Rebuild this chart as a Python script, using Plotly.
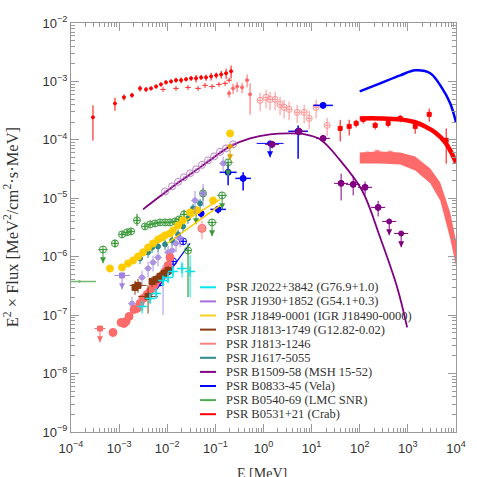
import plotly.graph_objects as go

# ---------------- DATA  (E in MeV ; E^2 x Flux in MeV^2 / cm^2 / s / MeV) ----------------
# PSR B0531+21 (Crab)
crab_xray_E = [2.86e-4, 8.2e-4, 1.26e-3, 1.85e-3, 2.72e-3, 3.62e-3, 4.6e-3, 5.85e-3, 7.4e-3, 9.4e-3, 1.2e-2, 1.52e-2,
               1.94e-2, 2.46e-2, 3.13e-2, 3.97e-2, 5.05e-2, 6.4e-2, 8.15e-2, 0.104, 0.132, 0.167, 0.212]
crab_xray_F = [2.43e-4, 4.2e-4, 5.35e-4, 5.8e-4, 7.6e-4, 7.3e-4, 7.6e-4, 8.2e-4, 8.9e-4, 9.65e-4, 1.0e-3, 1.05e-3,
               1.05e-3, 1.09e-3, 1.13e-3, 1.13e-3, 1.17e-3, 1.17e-3, 1.22e-3, 1.27e-3, 1.32e-3, 1.38e-3, 1.49e-3]
crab_xray_rerr = [0.6, 0.25, 0.12, 0.1, 0.12, 0.1, 0.08, 0.08, 0.08, 0.08, 0.08, 0.1,
                  0.12, 0.08, 0.1, 0.15, 0.1, 0.12, 0.15, 0.12, 0.15, 0.2, 0.25]
crab_xray2_E = [8.18e-3, 1.52e-2, 2.7e-2, 4.37e-2, 6.1e-2, 8.53e-2, 0.119, 0.159, 0.193]
crab_xray2_F = [7.3e-4, 7.6e-4, 7.9e-4, 7.6e-4, 8.57e-4, 8.2e-4, 8.9e-4, 9.27e-4, 1.05e-3]
crab_hard_E = [0.193, 0.233, 0.283, 0.359, 0.456, 0.526]
crab_hard_F = [6.25e-4, 7.6e-4, 8.2e-4, 7.9e-4, 1.05e-3, 6.0e-4]
crab_hard_rerr = [0.15, 0.2, 0.2, 0.2, 0.25, 0.55]
crab_comptel_E = [0.85, 1.13, 1.37, 1.74, 2.21, 2.68, 3.40, 5.0, 6.99, 8.9, 12.4, 21.0]
crab_comptel_F = [4.74e-4, 5.35e-4, 4.93e-4, 4.93e-4, 4.06e-4, 3.6e-4, 3.33e-4, 2.96e-4, 2.96e-4, 2.33e-4, 3.6e-4, 1.77e-4]
crab_fermi_E = [39.2, 60.3, 84.2, 118, 209, 389, 692, 1419, 2773, 6250]
crab_fermi_F = [1.57e-4, 1.70e-4, 1.92e-4, 2.24e-4, 1.77e-4, 1.92e-4, 2.33e-4, 1.70e-4, 2.73e-4, 9.8e-5]
crab_fermi_rerr = [0.4, 0.3, 0.15, 0.15, 0.15, 0.15, 0.15, 0.25, 0.25, 0.6]
crab_model_E = [100, 265, 692, 1419, 2291, 3698, 5970, 7570, 1e4]
crab_model_F = [2.33e-4, 2.33e-4, 2.24e-4, 2.0e-4, 1.70e-4, 1.34e-4, 9.06e-5, 6.6e-5, 4.1e-5]

# PSR B0833-45 (Vela)
vela_model_E = [100, 265, 692, 1419, 2911, 5164, 7570, 1e4]
vela_model_F = [6.76e-4, 9.27e-4, 1.27e-3, 1.55e-3, 1.38e-3, 7.6e-4, 4.22e-4, 2.0e-4]
vela_hi_E = [17.3, 5.24, 0.184, 0.377, 0.114, 0.0505]
vela_hi_F = [3.89e-4, 1.4e-4, 2.78e-5, 2.19e-5, 6.46e-6, 5.5e-6]
vela_hi_rup = [0.1, 0.26, 0.42, 0.27, 0.15, 0.15]
vela_hi_rdn = [0.1, 0.66, 0.4, 0.38, 0.15, 0.15]
vela_hi_rx = [0.6, 0.6, 0.5, 0.45, 0.45, 0.1]
vela_ul_E = [1.37]
vela_ul_F = [8.7e-5]
vela_lo_E = [7.08e-3, 1.04e-2, 1.32e-2, 2.13e-2]
vela_lo_F = [3.63e-7, 5.6e-7, 8.3e-7, 1.83e-6]
vela_pl_E = [5.6e-3, 2.98e-2]
vela_pl_F = [2.55e-7, 1.69e-6]

# PSR B1509-58 (MSH 15-52)
b1509_model_E = [3.14e-3, 7.08e-3, 1.85e-2, 4.81e-2, 9.86e-2, 0.202, 0.526, 1.37, 3.57, 7.33, 15.0, 39.2, 112, 265, 600, 966]
b1509_model_F = [6.46e-6, 1.08e-5, 1.95e-5, 3.38e-5, 5.21e-5, 7.74e-5, 1.06e-4, 1.24e-4, 1.29e-4, 1.24e-4, 1.02e-4,
                 4.45e-5, 1.36e-5, 2.14e-6, 2.98e-7, 6.17e-8]
b1509_circ_E = [9.0e-3, 1.26e-2, 1.68e-2, 2.23e-2, 2.98e-2, 3.97e-2, 5.28e-2, 7.05e-2, 9.4e-2, 0.125, 0.167, 0.233]
b1509_circ_F = [1.31e-5, 1.6e-5, 1.91e-5, 2.28e-5, 2.67e-5, 3.13e-5, 3.73e-5, 4.45e-5, 5.21e-5, 6.23e-5, 7.15e-5, 8.37e-5]
b1509_hi_E = [1.51, 5.5, 17.3, 41, 73, 129, 241]
b1509_hi_F = [8.37e-5, 1.4e-4, 1.06e-4, 1.8e-5, 1.73e-5, 1.54e-5, 6.98e-6]
b1509_hi_rup = [0.15, 0.15, 0.15, 0.47, 0.4, 0.25, 0.3]
b1509_hi_rdn = [0.15, 0.15, 0.15, 0.49, 0.35, 0.25, 0.3]
b1509_ul_E = [409, 726]
b1509_ul_F = [4.02e-6, 2.5e-6]

# PSR B0540-69 (LMC SNR)
b0540_E = [8.2e-4, 1.15e-3, 1.46e-3, 1.77e-3, 2.35e-3, 3.45e-3, 4.39e-3, 5.57e-3, 7.08e-3, 9.0e-3, 1.14e-2,
           1.45e-2, 1.76e-2, 2.23e-2, 2.7e-2, 5.54e-2]
b0540_F = [1.69e-6, 2.41e-6, 2.61e-6, 2.71e-6, 4.19e-6, 3.3e-6, 3.57e-6, 3.72e-6, 3.86e-6, 3.86e-6, 3.86e-6,
           4.02e-6, 4.35e-6, 5.3e-6, 1.28e-6, 1.21e-5]
b0540_rup = [0.15, 0.12, 0.1, 0.1, 0.3, 0.1, 0.08, 0.08, 0.08, 0.08, 0.08, 0.08, 0.1, 0.2, 0.32, 0.25]
b0540_rdn = [0.15, 0.12, 0.1, 0.1, 0.2, 0.1, 0.08, 0.08, 0.08, 0.08, 0.08, 0.08, 0.1, 0.2, 0.84, 0.25]
b0540_ul_E = [4.62e-4, 3.97e-2, 8.53e-2, 0.138, 0.184]
b0540_ul_F = [1.33e-6, 6.2e-6, 3.86e-6, 1.12e-5, 4.12e-5]
b0540_bar_E = [1.5e-4]
b0540_bar_F = [3.77e-7]

# PSR J1849-0001 (IGR J18490-0000)
j1849_E = [6.47e-4, 1.15e-3, 1.53e-3, 1.95e-3, 2.47e-3, 3.14e-3, 3.99e-3, 5.07e-3, 6.44e-3, 7.8e-3, 9.0e-3,
           1.14e-2, 1.32e-2, 1.68e-2, 2.13e-2, 2.98e-2, 4.17e-2, 8.96e-2, 0.202]
j1849_F = [6.3e-7, 6.56e-7, 7.68e-7, 8.65e-7, 1.01e-6, 1.19e-6, 1.44e-6, 1.69e-6, 1.98e-6, 2.14e-6, 2.32e-6,
           2.5e-6, 2.82e-6, 3.44e-6, 4.19e-6, 5.73e-6, 6.2e-6, 9.2e-6, 1.29e-4]
j1849_ul_E = [0.202]
j1849_ul_F = [7.74e-5]
j1849_pl1_E = [7.08e-3, 0.125]
j1849_pl1_F = [2.22e-6, 9.57e-6]
j1849_pl2_E = [1.0e-2, 0.125]
j1849_pl2_F = [1.69e-6, 7.55e-6]

# PSR J1617-5055
j1617_E = [2.72e-3, 3.99e-3, 4.83e-3, 6.44e-3, 9.0e-3, 1.26e-2, 1.68e-2, 2.13e-2, 2.7e-2, 3.43e-2, 4.81e-2]
j1617_F = [9.35e-7, 1.19e-6, 1.44e-6, 1.5e-6, 1.63e-6, 1.9e-6, 2.41e-6, 3.3e-6, 4.53e-6, 6.71e-6, 8.16e-6]

# PSR J1930+1852 (G54.1+0.3)
j1930_E = [1.85e-3, 2.99e-3, 3.99e-3, 5.07e-3, 6.44e-3, 8.18e-3, 1.04e-2, 1.26e-2, 1.52e-2, 1.85e-2, 3.78e-2, 5.54e-2, 0.145]
j1930_F = [1.58e-7, 4.42e-7, 6.3e-7, 8.0e-7, 9.73e-7, 4.78e-7, 1.19e-6, 1.28e-6, 1.69e-6, 2.06e-6, 9.2e-6, 1.21e-5, 3.95e-5]
j1930_rup = [0.3, 0.3, 0.3, 0.3, 0.3, 0.5, 0.3, 0.3, 0.3, 0.3, 0.45, 0.45, 0.3]
j1930_rdn = [0.3, 0.3, 0.3, 0.3, 0.3, 0.79, 0.3, 0.3, 0.3, 0.3, 0.4, 0.4, 0.3]
j1930_ul_E = [1.15e-3]
j1930_ul_F = [4.78e-7]

# PSR J1813-1749 (G12.82-0.02)
j1749_E = [2.14e-3, 2.47e-3, 3.99e-3, 4.83e-3, 5.85e-3, 7.08e-3, 8.57e-3, 1.04e-2]
j1749_F = [2.98e-7, 3.23e-7, 2.09e-7, 3.78e-7, 4.08e-7, 4.6e-7, 5.17e-7, 5.82e-7]
j1749_rup = [0.3, 0.3, 0.55, 0.2, 0.2, 0.2, 0.2, 0.2]
j1749_rdn = [0.25, 0.25, 0.49, 0.2, 0.2, 0.2, 0.2, 0.2]
j1749_rx = [0.15, 0.5, 0.6, 0.1, 0.1, 0.1, 0.1, 0.1]

# PSR J1813-1246
j1246_E = [7.46e-4, 1.1e-3, 1.26e-3, 1.39e-3, 1.61e-3, 2.04e-3, 2.35e-3, 2.72e-3, 3.14e-3, 3.8e-3, 4.39e-3,
           5.07e-3, 5.57e-3, 6.44e-3, 7.8e-3, 9.0e-3, 1.04e-2, 1.14e-2, 5.28e-2]
j1246_F = [5.05e-8, 7.5e-8, 7.2e-8, 7.8e-8, 9.5e-8, 1.25e-7, 1.3e-7, 1.58e-7, 1.93e-7, 2.26e-7, 2.55e-7,
           2.98e-7, 3.49e-7, 4.08e-7, 4.78e-7, 5.6e-7, 7.1e-7, 9.73e-7, 3.05e-6]
j1246_ul_E = [4.0e-4]
j1246_ul_F = [5.9e-8]
j1246_band_E = [100, 265, 692, 1419, 2911, 4699, 7570, 1e4]
j1246_band_hi = [6.1e-5, 6.35e-5, 6.1e-5, 5.2e-5, 3.25e-5, 1.87e-5, 5.7e-6, 1.9e-6]
j1246_band_lo = [3.95e-5, 3.95e-5, 3.8e-5, 3.0e-5, 1.8e-5, 9.2e-6, 2.06e-6, 7.1e-7]
j1246_fermi_E = [146, 230, 429, 762]
j1246_fermi_F = [5.7e-5, 6.1e-5, 5.9e-5, 5.0e-5]

# PSR J2022+3842 (G76.9+1.0)
j2022_E = [2.99e-3, 4.39e-3, 5.85e-3, 8.18e-3, 1.04e-2, 1.32e-2, 2.03e-2, 2.98e-2]
j2022_F = [1.41e-7, 1.93e-7, 2.35e-7, 3.93e-7, 4.42e-7, 5.6e-7, 6.3e-7, 5.6e-7]
j2022_rup = [0.25, 0.2, 0.2, 0.2, 0.2, 0.2, 0.3, 0.9]
j2022_rdn = [0.25, 0.2, 0.2, 0.2, 0.2, 0.2, 0.3, 0.64]

legend_names = ["PSR J2022+3842 (G76.9+1.0)", "PSR J1930+1852 (G54.1+0.3)", "PSR J1849-0001 (IGR J18490-0000)",
                "PSR J1813-1749 (G12.82-0.02)", "PSR J1813-1246", "PSR J1617-5055", "PSR B1509-58 (MSH 15-52)",
                "PSR B0833-45 (Vela)", "PSR B0540-69 (LMC SNR)", "PSR B0531+21 (Crab)"]
legend_colors = ["#00e5ee", "#a070e0", "#ffcc22", "#8b3a0f", "#ff8080", "#2e8b8b", "#8b008b", "#0000ff", "#4caf50", "#ff0000"]

# ---------------- STYLE ----------------
C_CYAN = "#00e5ee"
C_J1930 = "#a080e0"
C_GOLD = "#ffcc00"
C_BROWN = "#8b3a0f"
C_SALMON = "#ff6a6a"
C_TEAL = "#2a8a8a"
C_PURPLE = "#800080"
C_BLUE = "#0000ff"
C_GREEN = "#3a9a3a"
C_RED = "#ff0000"

fig = go.Figure()


def points(E, F, color, symbol="circle", size=5, rup=0.15, rdn=None, rx=0.1, opacity=1.0, lw=1.0, mlw=1):
    n = len(F)
    rup = rup if isinstance(rup, list) else [rup] * n
    rdn = rdn if isinstance(rdn, list) else (rup if rdn is None else [rdn] * n)
    rx = rx if isinstance(rx, list) else [rx] * n
    fig.add_trace(go.Scatter(
        x=E, y=F, mode="markers", showlegend=False, opacity=opacity,
        marker=dict(symbol=symbol, size=size, color=color, line=dict(color=color, width=mlw)),
        error_y=dict(type="data", symmetric=False, array=[f * r for f, r in zip(F, rup)],
                     arrayminus=[f * r for f, r in zip(F, rdn)], color=color, thickness=lw, width=0),
        error_x=dict(type="data", symmetric=False, array=[e * r for e, r in zip(E, rx)],
                     arrayminus=[e * r / (1 + r) for e, r in zip(E, rx)], color=color, thickness=lw, width=0),
    ))


def upper_limits(E, F, color, symbol="circle", size=5, rx=0.2, opacity=1.0):
    drop = 0.42
    fig.add_trace(go.Scatter(
        x=E, y=F, mode="markers", showlegend=False, opacity=opacity,
        marker=dict(symbol=symbol, size=size, color=color, line=dict(color=color, width=1)),
        error_y=dict(type="data", symmetric=False, array=[0] * len(F), arrayminus=[f * drop for f in F],
                     color=color, thickness=1, width=0),
        error_x=dict(type="data", symmetric=False, array=[e * rx for e in E],
                     arrayminus=[e * rx / (1 + rx) for e in E], color=color, thickness=1, width=0),
    ))
    fig.add_trace(go.Scatter(
        x=E, y=[f * (1 - drop) for f in F], mode="markers", showlegend=False, opacity=opacity,
        marker=dict(symbol="arrow-down", size=6, color=color),
    ))


# J1813-1246 Fermi band
fig.add_trace(go.Scatter(x=j1246_band_E + j1246_band_E[::-1], y=j1246_band_hi + j1246_band_lo[::-1],
                         fill="toself", fillcolor=C_SALMON, line=dict(width=0), mode="lines",
                         showlegend=False, hoverinfo="skip"))
points(j1246_fermi_E, j1246_fermi_F, C_SALMON, "square", 4, rup=0.1, rx=0.3, opacity=0.8)

# Crab
points(crab_xray_E, crab_xray_F, C_RED, "circle", 3, rup=crab_xray_rerr, rx=0.08)
points(crab_xray2_E, crab_xray2_F, C_RED, "line-ew", 4, rup=0.1, rx=0.05, opacity=0.8)
points(crab_hard_E, crab_hard_F, "#ff4040", "circle", 3, rup=crab_hard_rerr, rx=0.08, opacity=0.8)
points(crab_comptel_E, crab_comptel_F, "#ff9090", "circle-open", 6, rup=0.35, rx=0.12)
points(crab_fermi_E, crab_fermi_F, C_RED, "square", 4, rup=crab_fermi_rerr, rx=0.1)
fig.add_trace(go.Scatter(x=crab_model_E, y=crab_model_F, mode="lines", line=dict(color=C_RED, width=4.5, shape="spline"),
                         showlegend=False))

# Vela
fig.add_trace(go.Scatter(x=vela_model_E, y=vela_model_F, mode="lines", line=dict(color=C_BLUE, width=2.5, shape="spline"),
                         showlegend=False))
points(vela_hi_E, vela_hi_F, C_BLUE, "circle", 6, rup=vela_hi_rup, rdn=vela_hi_rdn, rx=vela_hi_rx, lw=1.5)
upper_limits(vela_ul_E, vela_ul_F, C_BLUE, "circle", 5, rx=0.9)
points(vela_lo_E, vela_lo_F, C_BLUE, "circle-cross-open", 7, rup=0.12, rx=0.08)
fig.add_trace(go.Scatter(x=vela_pl_E, y=vela_pl_F, mode="lines", line=dict(color=C_BLUE, width=1.2), showlegend=False))

# B0540-69
points(b0540_bar_E, b0540_bar_F, C_GREEN, "circle", 2, rup=0.0, rx=[1.2], opacity=0.7, lw=1.5)
points(b0540_E, b0540_F, C_GREEN, "circle-cross-open", 7, rup=b0540_rup, rdn=b0540_rdn, rx=0.1, lw=1.2)
upper_limits(b0540_ul_E, b0540_ul_F, C_GREEN, "circle-cross-open", 7, rx=0.25)

# B1509-58
fig.add_trace(go.Scatter(x=b1509_model_E, y=b1509_model_F, mode="lines",
                         line=dict(color=C_PURPLE, width=1.8, shape="spline"), showlegend=False))
points(b1509_circ_E, b1509_circ_F, "#b070c0", "circle-open", 7, rup=0.06, rx=0.05, opacity=0.85)
points(b1509_hi_E, b1509_hi_F, C_PURPLE, "circle", 6, rup=b1509_hi_rup, rdn=b1509_hi_rdn, rx=0.4)
upper_limits(b1509_ul_E, b1509_ul_F, C_PURPLE, "circle", 5, rx=0.4)

# J1617-5055
points(j1617_E, j1617_F, C_TEAL, "circle", 5, rup=0.2, rx=0.08)

# J1849-0001
points(j1849_E, j1849_F, C_GOLD, "circle", 7, rup=0.15, rx=0.1)
upper_limits(j1849_ul_E, j1849_ul_F, "#e0a000", "circle", 4, rx=0.2)
fig.add_trace(go.Scatter(x=j1849_pl1_E, y=j1849_pl1_F, mode="lines", line=dict(color=C_GOLD, width=1.5), showlegend=False))
fig.add_trace(go.Scatter(x=j1849_pl2_E, y=j1849_pl2_F, mode="lines", line=dict(color=C_GOLD, width=1.5), showlegend=False))

# J1930+1852
points(j1930_E, j1930_F, C_J1930, "circle", 5, rup=j1930_rup, rdn=j1930_rdn, rx=0.2, opacity=0.85)
upper_limits(j1930_ul_E, j1930_ul_F, C_J1930, "square", 5, rx=0.45)

# J1813-1246 low-energy points
points(j1246_E, j1246_F, C_SALMON, "circle", 8, rup=0.12, rx=0.06)
points([5.28e-2], [3.05e-6], "#ff9090", "square", 5, rup=0.35, rx=0.25)
upper_limits(j1246_ul_E, j1246_ul_F, C_SALMON, "square", 5, rx=0.3)

# J1813-1749
points(j1749_E, j1749_F, C_BROWN, "square", 6, rup=j1749_rup, rdn=j1749_rdn, rx=j1749_rx)

# J2022+3842
points(j2022_E, j2022_F, C_CYAN, "cross-thin-open", 7, rup=j2022_rup, rdn=j2022_rdn, rx=0.15, mlw=1.5)

# ---------------- LEGEND (drawn inside the plot area) ----------------
L, R, T, B = 71, 456, 22.7, 431.7
PW, PH = R - L, B - T
for i, (name, col) in enumerate(zip(legend_names, legend_colors)):
    yy = 287 + i * 14.1
    yp = (B - yy) / PH
    fig.add_shape(type="line", xref="paper", yref="paper", x0=(200 - L) / PW, x1=(216 - L) / PW, y0=yp, y1=yp,
                  line=dict(color=col, width=2))
    fig.add_annotation(xref="paper", yref="paper", x=(224 - L) / PW, y=yp, text=name, showarrow=False,
                       xanchor="left", yanchor="middle", font=dict(family="Liberation Serif", size=12.5, color="#333333"))

# axis titles
fig.add_annotation(xref="paper", yref="paper", x=(262 - L) / PW, y=(B - 473) / PH, text="E [MeV]", showarrow=False,
                   xanchor="center", yanchor="middle", font=dict(family="Liberation Serif", size=14, color="#333333"))
fig.add_annotation(xref="paper", yref="paper", x=(11 - L) / PW, y=(B - 227) / PH,
                   text="E<sup>2</sup> × Flux [MeV<sup>2</sup>/cm<sup>2</sup>·s·MeV]", showarrow=False,
                   textangle=-90, xanchor="center", yanchor="middle",
                   font=dict(family="Liberation Serif", size=16.5, color="#333333"))

xt = [1e-4, 1e-3, 1e-2, 1e-1, 1, 10, 100, 1e3, 1e4]
xtt = ["10<sup>−4</sup>", "10<sup>−3</sup>", "10<sup>−2</sup>", "10<sup>−1</sup>", "10<sup>0</sup>", "10<sup>1</sup>",
       "10<sup>2</sup>", "10<sup>3</sup>", "10<sup>4</sup>"]
yt = [1e-9, 1e-8, 1e-7, 1e-6, 1e-5, 1e-4, 1e-3, 1e-2]
ytt = ["10<sup>−9</sup>", "10<sup>−8</sup>", "10<sup>−7</sup>", "10<sup>−6</sup>", "10<sup>−5</sup>", "10<sup>−4</sup>",
       "10<sup>−3</sup>", "10<sup>−2</sup>"]

axis_common = dict(type="log", showgrid=False, zeroline=False, showline=True, linecolor="#999999", linewidth=1,
                   mirror="allticks", ticks="inside", ticklen=8, tickcolor="#999999", tickwidth=1,
                   tickfont=dict(family="Liberation Sans", size=13, color="#333333"),
                   minor=dict(ticks="inside", ticklen=4, tickcolor="#999999", dtick="D1", showgrid=False),
                   automargin=False)

fig.update_layout(
    width=477, height=477, template="none",
    margin=dict(l=71, r=21, t=23, b=45),
    paper_bgcolor="white", plot_bgcolor="white", showlegend=False,
    xaxis=dict(range=[-4, 4], tickvals=xt, ticktext=xtt, ticklabelstandoff=4, **axis_common),
    yaxis=dict(range=[-9, -2], tickvals=yt, ticktext=ytt, **axis_common),
)

fig.write_html("out.html", config={"displayModeBar": False},
               post_script="document.body.style.margin='0';")
